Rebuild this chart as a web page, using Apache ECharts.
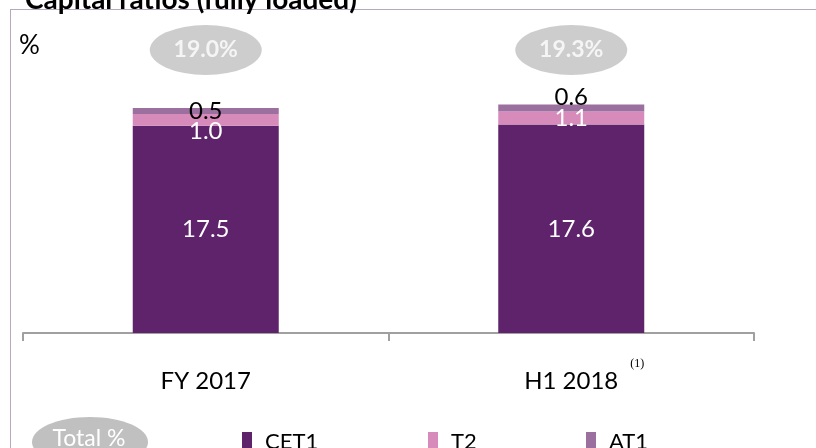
<!DOCTYPE html>
<html>
<head>
<meta charset="utf-8">
<script src="https://cdn.jsdelivr.net/npm/echarts@6/dist/echarts.min.js"></script>
<style>
  html, body { margin: 0; padding: 0; background: #fff; }
  #chart { width: 816px; height: 448px; }
</style>
</head>
<body>
<div id="chart"></div>
<script>
const periods = ['FY 2017', 'H1 2018'];
const footnotes = ['', '(1)'];
const cet1 = [17.5, 17.6];
const t2 = [1.0, 1.1];
const at1 = [0.5, 0.6];
const totals = [19.0, 19.3];

const FONT = 'Lato, "Open Sans", sans-serif';
const bubbleY = 23.9;
// label nudges as laid out in the source slide
const t2Offsets = [[0, 11], [0, 0]];
const at1Offsets = [[0, 0], [0, -11]];

const chart = echarts.init(document.getElementById('chart'));

const legendBase = {
  icon: 'rect', itemWidth: 10, itemHeight: 20, itemGap: 0, top: 426,
  textStyle: { fontFamily: FONT, fontSize: 22, color: '#000', padding: [0, 0, 0, 8] }
};

const supStyle = { fontFamily: '"Liberation Serif", serif', fontSize: 12, color: '#000', verticalAlign: 'top', padding: [0, 0, 34, 0] };

const option = {
  animation: false,
  title: {
    text: 'Capital ratios (fully loaded)',
    left: 20,
    top: -19,
    textStyle: { fontFamily: FONT, fontSize: 28, fontWeight: 'bold', color: '#000' }
  },
  grid: { left: 23, right: 62, top: 37, bottom: 115 },
  xAxis: {
    type: 'category',
    data: periods,
    axisLine: { lineStyle: { color: '#a0a0a0', width: 2 } },
    axisTick: { show: true, interval: 0, length: 8, lineStyle: { color: '#a0a0a0', width: 2 } },
    axisLabel: {
      interval: 0,
      hideOverlap: false,
      margin: 25,
      fontFamily: FONT,
      fontSize: 24,
      color: '#000',
      formatter: function (v, i) {
        const note = '    ' + (footnotes[i] || '   ');
        return '{ghost|' + note + '}' + v + '{sup|' + (footnotes[i] ? note : note.replace(/./g, ' ')) + '}';
      },
      rich: {
        sup: supStyle,
        ghost: Object.assign({}, supStyle, { color: 'rgba(0,0,0,0)' })
      }
    }
  },
  yAxis: { type: 'value', min: 0, max: 25, show: false },
  legend: [
    Object.assign({ data: ['CET1'], left: 237 }, legendBase),
    Object.assign({ data: ['T2'], left: 423 }, legendBase),
    Object.assign({ data: ['AT1'], left: 581 }, legendBase)
  ],
  graphic: [
    { type: 'line', shape: { x1: 10.5, y1: 9, x2: 10.5, y2: 448 }, style: { stroke: '#b6a9be', lineWidth: 1 } },
    { type: 'line', shape: { x1: 10, y1: 9.5, x2: 816, y2: 9.5 }, style: { stroke: '#b6a9be', lineWidth: 1 } },
    { type: 'text', left: 19, top: 33, style: { text: '%', fontFamily: FONT, fontSize: 26, fill: '#000' } },
    { type: 'ellipse', shape: { cx: 90, cy: 442, rx: 58, ry: 25 }, style: { fill: '#c0c0c0' } },
    { type: 'text', x: 89, y: 439, style: { text: 'Total %', fontFamily: FONT, fontSize: 23, fill: '#fff', align: 'center', verticalAlign: 'middle' } }
  ],
  series: [
    {
      name: 'CET1', type: 'bar', stack: 'cap', barWidth: 146,
      itemStyle: { color: '#5f236b' },
      label: { show: true, position: 'inside', color: '#fff', fontFamily: FONT, fontSize: 24, formatter: p => p.value.toFixed(1) },
      data: cet1
    },
    {
      name: 'T2', type: 'bar', stack: 'cap',
      itemStyle: { color: '#d78bbb' },
      data: t2.map((v, i) => ({
        value: v,
        label: { show: true, position: 'inside', offset: t2Offsets[i], color: '#fff', fontFamily: FONT, fontSize: 24, formatter: p => p.value.toFixed(1) }
      }))
    },
    {
      name: 'AT1', type: 'bar', stack: 'cap',
      itemStyle: { color: '#9b6f9e' },
      data: at1.map((v, i) => ({
        value: v,
        label: { show: true, position: 'inside', offset: at1Offsets[i], color: '#000', fontFamily: FONT, fontSize: 24, formatter: p => p.value.toFixed(1) }
      }))
    },
    {
      name: 'Total', type: 'scatter', symbol: 'circle', symbolSize: [112, 50],
      itemStyle: { color: '#c0c0c0' },
      label: {
        show: true, position: 'inside', color: '#fff', fontFamily: FONT, fontSize: 23, fontWeight: 'bold',
        formatter: p => totals[p.dataIndex].toFixed(1) + '%'
      },
      data: totals.map((t, i) => [i, bubbleY])
    }
  ]
};

chart.setOption(option);
</script>
</body>
</html>
